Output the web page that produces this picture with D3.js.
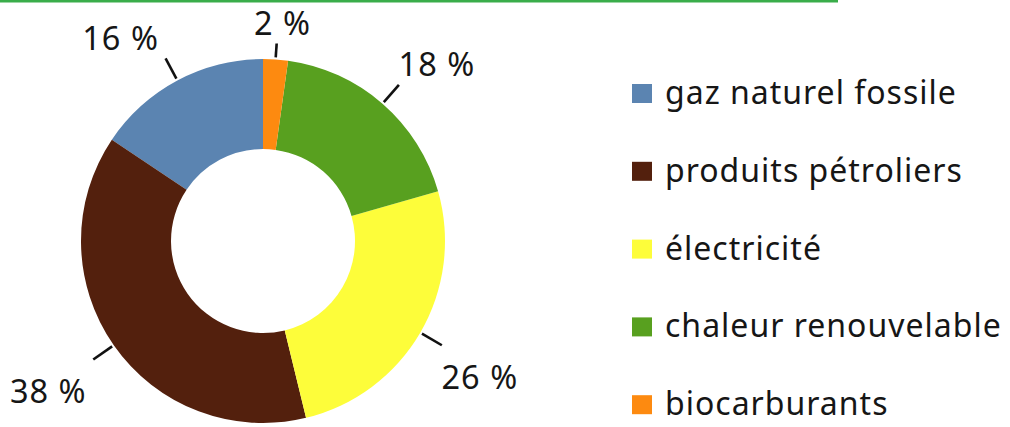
<!DOCTYPE html>
<html>
<head>
<meta charset="utf-8">
<script src="https://cdn.jsdelivr.net/npm/d3@7"></script>
<style>
  html, body { margin: 0; padding: 0; background: #ffffff; }
  svg { display: block; }
  text { font-family: "Noto Sans", Lato, sans-serif; fill: #161616; }
</style>
</head>
<body>
<svg id="chart" width="1010" height="427"></svg>
<script>
// ---- data (legend order) ----
const categories = ["gaz naturel fossile", "produits pétroliers", "électricité", "chaleur renouvelable", "biocarburants"];
const values = [15.6, 38.2, 25.6, 18.4, 2.2];
const valueLabels = ["16 %", "38 %", "26 %", "18 %", "2 %"];
const colors = ["#5b84b1", "#53200d", "#fdfd3a", "#58a01f", "#fd8a10"];

const svg = d3.select("#chart");
const cx = 263, cy = 241, rOuter = 182, rInner = 92;

// top green rule
svg.append("rect").attr("x", 0).attr("y", 0).attr("width", 838).attr("height", 2.5).attr("fill", "#3aad4a");

const color = d3.scaleOrdinal().domain(categories).range(colors);
const data = categories.map((c, i) => ({ cat: c, value: values[i], label: valueLabels[i] }));

// counter-clockwise from 12 o'clock
const pie = d3.pie().sort(null).value(d => d.value).startAngle(0).endAngle(-2 * Math.PI);
const arcs = pie(data);
const arc = d3.arc().innerRadius(rInner).outerRadius(rOuter);

const g = svg.append("g").attr("transform", `translate(${cx},${cy})`);

g.selectAll("path.slice").data(arcs).join("path")
  .attr("class", "slice")
  .attr("d", arc)
  .attr("fill", d => color(d.data.cat));

// leader ticks and labels
arcs.forEach(d => {
  const a = (d.startAngle + d.endAngle) / 2;
  const s = Math.sin(a), c = Math.cos(a);
  const r1 = rOuter + 2;
  const r2 = Math.abs(s) < 0.2 ? rOuter + 16 : rOuter + 25;
  g.append("line")
    .attr("x1", r1 * s).attr("y1", -r1 * c)
    .attr("x2", r2 * s).attr("y2", -r2 * c)
    .attr("stroke", "#111").attr("stroke-width", 2.6);
  const ex = r2 * s, ey = -r2 * c;
  const f = Math.min(1, Math.abs(s) / 0.45);
  const dx = (s > 0 ? 38 : -45) * f;
  const dy = c > 0 ? -21 : 31;
  g.append("text")
    .attr("x", ex + dx).attr("y", ey + dy)
    .attr("text-anchor", "middle")
    .attr("dominant-baseline", "central")
    .attr("font-size", 32.5)
    .attr("letter-spacing", 1)
    .text(d.data.label);
});

// legend
const legend = svg.append("g").attr("transform", "translate(632,94)");
const rowH = 77.8;
const items = legend.selectAll("g").data(categories).join("g")
  .attr("transform", (d, i) => `translate(0,${i * rowH})`);
items.append("rect").attr("x", 0).attr("y", -10).attr("width", 20).attr("height", 19).attr("fill", d => color(d));
items.append("text").attr("x", 33).attr("y", 10).attr("font-size", 32).attr("letter-spacing", 1).text(d => d);
</script>
</body>
</html>
